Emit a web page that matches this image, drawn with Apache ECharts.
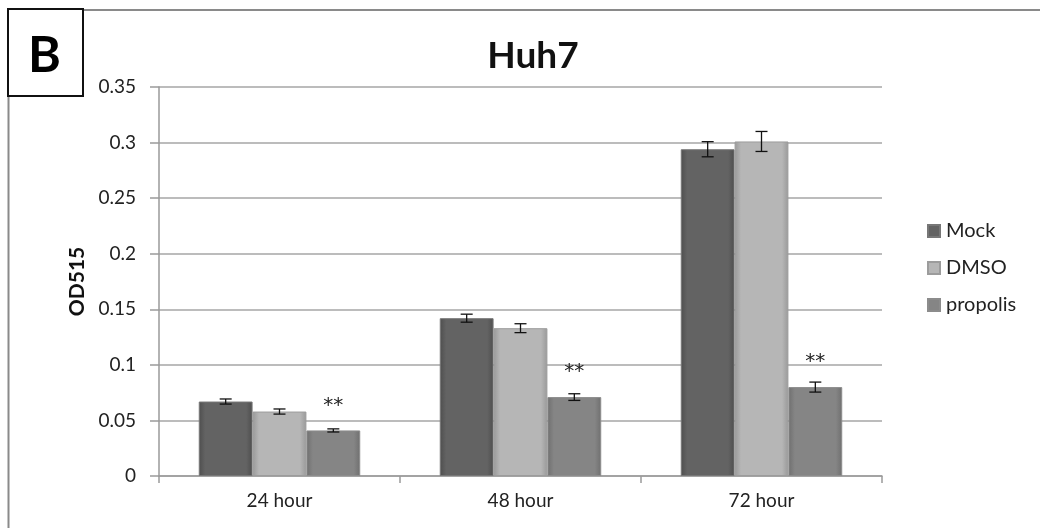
<!DOCTYPE html>
<html>
<head>
<meta charset="utf-8">
<script src="https://cdn.jsdelivr.net/npm/echarts@6/dist/echarts.min.js"></script>
<style>
  html, body { margin: 0; padding: 0; background: #fff; }
  #chart { width: 1040px; height: 528px; }
</style>
</head>
<body>
<div id="chart"></div>
<script>
// data
var categories = ['24 hour', '48 hour', '72 hour'];
var mockVals = [0.067, 0.142, 0.294];
var dmsoVals = [0.058, 0.133, 0.301];
var propolisVals = [0.041, 0.071, 0.080];
var mockErr = [0.0023, 0.0036, 0.0068];
var dmsoErr = [0.0023, 0.004, 0.009];
var propolisErr = [0.0014, 0.003, 0.0045];
var yTicks = [0, 0.05, 0.1, 0.15, 0.2, 0.25, 0.3, 0.35];

var FONT = 'Lato';
var chart = echarts.init(document.getElementById('chart'));

// error bars drawn with a custom series, offset to sit on each bar of the group
function errSeries(name, vals, errs, idx) {
  return {
    name: name + ' err',
    type: 'custom',
    z: 5,
    data: vals.map(function (v, i) { return [i, v - errs[i], v + errs[i]]; }),
    renderItem: function (params, api) {
      var band = api.size([1, 0])[0];
      var bw = band * 0.67 / 3;
      var off = (idx - 1) * bw;
      var lo = api.coord([api.value(0), api.value(1)]);
      var hi = api.coord([api.value(0), api.value(2)]);
      var x = lo[0] + off;
      var cap = 6;
      var st = { stroke: '#111', lineWidth: 1.3 };
      return {
        type: 'group',
        children: [
          { type: 'line', shape: { x1: x, y1: hi[1], x2: x, y2: lo[1] }, style: st },
          { type: 'line', shape: { x1: x - cap, y1: hi[1], x2: x + cap, y2: hi[1] }, style: st },
          { type: 'line', shape: { x1: x - cap, y1: lo[1], x2: x + cap, y2: lo[1] }, style: st }
        ]
      };
    }
  };
}

function barColor(edge, mid) {
  return new echarts.graphic.LinearGradient(0, 0, 1, 0, [
    { offset: 0, color: edge },
    { offset: 0.12, color: mid },
    { offset: 0.88, color: mid },
    { offset: 1, color: edge }
  ]);
}

var option = {
  backgroundColor: '#fff',
  animation: false,
  textStyle: { fontFamily: FONT },
  title: {
    text: 'Huh7',
    left: 528,
    top: 33,
    textAlign: 'center',
    textStyle: { fontFamily: FONT, fontWeight: 'bold', fontSize: 37, color: '#111' }
  },
  legend: {
    orient: 'vertical',
    left: 922,
    top: 216,
    itemGap: 17,
    itemWidth: 12,
    itemHeight: 12,
    icon: 'rect',
    data: ['Mock', 'DMSO', 'propolis'],
    textStyle: { fontFamily: FONT, fontSize: 20, color: '#222', padding: [0, 0, 0, 1] }
  },
  grid: { left: 159, right: 158, top: 87, bottom: 52 },
  xAxis: {
    type: 'category',
    data: categories,
    axisLine: { lineStyle: { color: '#9a9a9a', width: 1.5 } },
    axisTick: { show: true, length: 7, lineStyle: { color: '#9a9a9a', width: 1.5 } },
    axisLabel: { fontFamily: FONT, fontSize: 19, color: '#222', margin: 15 }
  },
  yAxis: {
    type: 'value',
    min: 0,
    max: 0.35,
    interval: 0.05,
    name: 'OD515',
    nameLocation: 'middle',
    nameGap: 62,
    nameTextStyle: { fontFamily: FONT, fontWeight: 'bold', fontSize: 21, color: '#111' },
    axisLine: { show: true, lineStyle: { color: '#9a9a9a', width: 1.5 } },
    axisTick: { show: true, length: 9, lineStyle: { color: '#9a9a9a', width: 1.5 } },
    splitLine: { lineStyle: { color: '#a6a6a6', width: 1.5 } },
    axisLabel: {
      fontFamily: FONT, fontSize: 19, color: '#222', margin: 23,
      formatter: function (v) {
        var t = yTicks.filter(function (k) { return Math.abs(k - v) < 1e-9; });
        return t.length ? String(t[0]) : '';
      }
    }
  },
  graphic: [
    { type: 'line', shape: { x1: 83, y1: 10, x2: 1040, y2: 10 }, style: { stroke: '#8a8a8a', lineWidth: 2 } },
    { type: 'line', shape: { x1: 8.5, y1: 96, x2: 8.5, y2: 528 }, style: { stroke: '#8a8a8a', lineWidth: 2 } },
    { type: 'rect', shape: { x: 8, y: 9, width: 75, height: 87 }, style: { fill: '#fff', stroke: '#111', lineWidth: 2 } },
    {
      type: 'text', left: 28, top: 31,
      style: { text: 'B', fontFamily: FONT, fontWeight: 'bold', fontSize: 50, fill: '#000' }
    }
  ],
  series: [
    {
      name: 'Mock', type: 'bar', data: mockVals,
      barGap: '0%', barCategoryGap: '33%',
      itemStyle: { color: barColor('#4e4e4e', '#636363'), borderColor: '#777', borderWidth: 1 }
    },
    {
      name: 'DMSO', type: 'bar', data: dmsoVals,
      itemStyle: { color: barColor('#999999', '#b6b6b6'), borderColor: '#9c9c9c', borderWidth: 1 }
    },
    {
      name: 'propolis', type: 'bar', data: propolisVals,
      itemStyle: { color: barColor('#6f6f6f', '#858585'), borderColor: '#8c8c8c', borderWidth: 1 },
      label: {
        show: true, position: 'top', distance: 15, formatter: '**',
        fontFamily: 'DejaVu Sans', fontSize: 20, color: '#222'
      }
    },
    errSeries('Mock', mockVals, mockErr, 0),
    errSeries('DMSO', dmsoVals, dmsoErr, 1),
    errSeries('propolis', propolisVals, propolisErr, 2)
  ]
};

chart.setOption(option);
</script>
</body>
</html>
